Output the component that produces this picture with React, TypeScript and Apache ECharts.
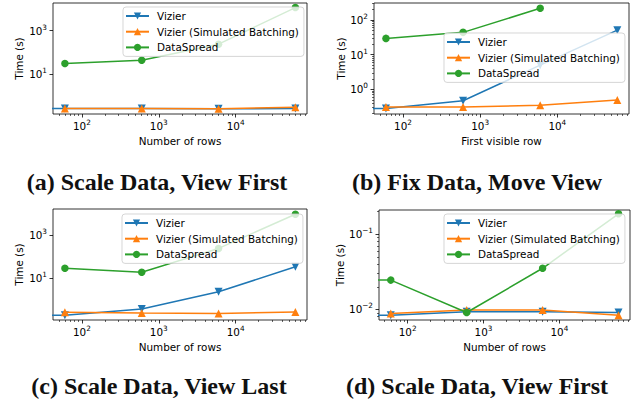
import React, { useEffect, useRef } from 'react';
import * as echarts from 'echarts';

// ---------- data ----------
const xRows = [60, 600, 6000, 60000];
const stubX = 1; // series whose line runs off the left edge (x = 0 in the source plot)

const seriesNames = ['Vizier', 'Vizier (Simulated Batching)', 'DataSpread'];

const aVizier = [0.26, 0.26, 0.25, 0.26];
const aBatch = [0.26, 0.26, 0.25, 0.3];
const aSpread = [31, 44, 240, 11700];

const bVizier = [0.28, 0.47, 5.0, 51];
const bBatch = [0.31, 0.31, 0.35, 0.49];
const bSpread = [29.5, 44, 217];

const cVizier = [0.2, 0.39, 2.4, 34];
const cBatch = [0.27, 0.25, 0.24, 0.28];
const cSpread = [29, 19, 240, 9100];

const dVizier = [0.0084, 0.0093, 0.0093, 0.0091];
const dBatch = [0.0088, 0.0098, 0.0098, 0.0084];
const dSpread = [0.0245, 0.0091, 0.0352, 0.186];

const xMajor = [100, 1000, 10000];
const xMinor = [50, 60, 70, 80, 90, 200, 300, 400, 500, 600, 700, 800, 900,
  2000, 3000, 4000, 5000, 6000, 7000, 8000, 9000, 20000, 30000, 40000, 50000, 60000, 70000, 80000];

const aYMajor = [10, 1000];
const bYMajor = [1, 10, 100];
const bYMinor = [0.2, 0.3, 0.4, 0.5, 0.6, 0.7, 0.8, 0.9, 2, 3, 4, 5, 6, 7, 8, 9,
  20, 30, 40, 50, 60, 70, 80, 90, 200, 300];
const cYMajor = [10, 1000];
const dYMajor = [0.01, 0.1];
const dYMinor = [0.008, 0.009, 0.02, 0.03, 0.04, 0.05, 0.06, 0.07, 0.08, 0.09, 0.2];

const captions = [
  '(a) Scale Data, View First',
  '(b) Fix Data, Move View',
  '(c) Scale Data, View Last',
  '(d) Scale Data, View First',
];
const xNames = ['Number of rows', 'First visible row', 'Number of rows', 'Number of rows'];

// ---------- layout / style ----------
const FONT = 'DejaVu Sans';
const FS = 10.4;
const colors = ['#1f77b4', '#ff7f0e', '#2ca02c'];
const symbols = ['triangle', 'triangle', 'circle'];
const rotates = [180, 0, 0];
const symSizes = [8, 8, 7.5];

const panels = [
  {
    grid: { left: 53, top: 3, width: 254, height: 111 },
    yMin: 0.145, yMax: 19000, yMajor: aYMajor, yMinor: [] as number[], yNameGap: 29,
    legend: { left: 123, top: 7 },
    data: [aVizier, aBatch, aSpread], stubs: [true, false, false],
    caption: { x: 157, y: 182 },
  },
  {
    grid: { left: 374, top: 3, width: 255, height: 111 },
    yMin: 0.195, yMax: 309, yMajor: bYMajor, yMinor: bYMinor, yNameGap: 28,
    legend: { left: 444, top: 33 },
    data: [bVizier, bBatch, bSpread], stubs: [true, false, false],
    caption: { x: 477, y: 182 },
  },
  {
    grid: { left: 53, top: 209, width: 254, height: 111 },
    yMin: 0.12, yMax: 15800, yMajor: cYMajor, yMinor: [] as number[], yNameGap: 29,
    legend: { left: 122, top: 214 },
    data: [cVizier, cBatch, cSpread], stubs: [true, false, false],
    caption: { x: 159, y: 386 },
  },
  {
    grid: { left: 379, top: 210, width: 251, height: 110 },
    yMin: 0.00724, yMax: 0.209, yMajor: dYMajor, yMinor: dYMinor, yNameGap: 33,
    legend: { left: 444, top: 214 },
    data: [dVizier, dBatch, dSpread], stubs: [true, false, true],
    caption: { x: 477, y: 386 },
  },
];

const powFormatter = (v: number) => {
  const e = Math.round(Math.log10(v));
  const s = e < 0 ? '\u2212' + Math.abs(e) : String(e);
  return `{b|10}{s|${s}}`;
};

const richLabel = {
  b: { fontSize: FS, fontFamily: FONT, color: '#000' },
  s: { fontSize: 7.3, fontFamily: FONT, color: '#000', padding: [0, 0, 7, 0] },
};

function buildOption() {
  const grids: any[] = [];
  const xAxes: any[] = [];
  const yAxes: any[] = [];
  const series: any[] = [];
  const legends: any[] = [];
  const graphics: any[] = [];

  panels.forEach((p, gi) => {
    grids.push({
      ...p.grid,
      show: true,
      borderColor: '#000',
      borderWidth: 0.8,
      backgroundColor: 'transparent',
      containLabel: false,
    });
    // main x axis
    xAxes.push({
      type: 'log', logBase: 10, gridIndex: gi, min: 42, max: 85000,
      name: xNames[gi], nameLocation: 'middle', nameGap: 22,
      nameTextStyle: { fontFamily: FONT, fontSize: FS, color: '#000' },
      axisLine: { show: false },
      axisTick: { show: true, customValues: xMajor, length: 3.5, lineStyle: { color: '#000', width: 0.8 } },
      axisLabel: { customValues: xMajor, formatter: powFormatter, margin: 5, rich: richLabel },
      splitLine: { show: false },
      minorTick: { show: false },
    });
    // main y axis
    yAxes.push({
      type: 'log', logBase: 10, gridIndex: gi, min: p.yMin, max: p.yMax,
      name: 'Time (s)', nameLocation: 'middle', nameGap: p.yNameGap, nameRotate: 90,
      nameTextStyle: { fontFamily: FONT, fontSize: FS, color: '#000' },
      axisLine: { show: false },
      axisTick: { show: true, customValues: p.yMajor, length: 3.5, lineStyle: { color: '#000', width: 0.8 } },
      axisLabel: { customValues: p.yMajor, formatter: powFormatter, margin: 6, rich: richLabel },
      splitLine: { show: false },
    });

    const sIdx0 = series.length;
    p.data.forEach((vals, si) => {
      const pts: any[] = vals.map((v, i) => [xRows[i], v]);
      if (p.stubs[si]) pts.unshift({ value: [stubX, vals[0]], symbol: 'none' });
      series.push({
        type: 'line',
        name: seriesNames[si],
        xAxisIndex: gi,
        yAxisIndex: gi,
        data: pts,
        symbol: symbols[si],
        symbolRotate: rotates[si],
        symbolSize: symSizes[si],
        showSymbol: true,
        clip: true,
        color: colors[si],
        lineStyle: { color: colors[si], width: 1.5 },
        itemStyle: { color: colors[si] },
        z: 2 + si,
      });
    });

    legends.push({
      show: true,
      data: seriesNames,
      orient: 'vertical',
      left: p.legend.left,
      top: p.legend.top,
      itemWidth: 23,
      itemHeight: 9,
      itemGap: 3.7,
      padding: [3, 5, 3, 2],
      backgroundColor: 'rgba(255,255,255,0.8)',
      borderColor: 'rgba(204,204,204,0.8)',
      borderWidth: 1,
      borderRadius: 3,
      selectedMode: false,
      textStyle: { fontFamily: FONT, fontSize: FS, color: '#000', padding: [0, 0, 0, 3], lineHeight: 12 },
      z: 10,
    });

    graphics.push({
      type: 'text',
      x: p.caption.x,
      y: p.caption.y,
      style: {
        text: captions[gi],
        fontFamily: 'Liberation Serif',
        fontWeight: 'bold',
        fontSize: 24,
        fill: '#111',
        align: 'center',
        verticalAlign: 'middle',
      },
    });
  });

  // minor tick axes
  panels.forEach((p, gi) => {
    xAxes.push({
      type: 'log', logBase: 10, gridIndex: gi, min: 42, max: 85000, position: 'bottom',
      axisLine: { show: false },
      axisTick: { show: true, customValues: xMinor, length: 2, lineStyle: { color: '#000', width: 0.6 } },
      axisLabel: { show: false },
      splitLine: { show: false },
    });
    yAxes.push({
      type: 'log', logBase: 10, gridIndex: gi, min: p.yMin, max: p.yMax, position: 'left',
      axisLine: { show: false },
      axisTick: { show: p.yMinor.length > 0, customValues: p.yMinor.length ? p.yMinor : [p.yMin], length: 2, lineStyle: { color: '#000', width: 0.6 } },
      axisLabel: { show: false },
      splitLine: { show: false },
    });
  });

  return {
    animation: false,
    backgroundColor: '#fff',
    grid: grids,
    xAxis: xAxes,
    yAxis: yAxes,
    series,
    legend: legends,
    graphic: graphics,
  };
}

export default function App() {
  const ref = useRef<HTMLDivElement>(null);
  useEffect(() => {
    if (!ref.current) return;
    const chart = echarts.init(ref.current, undefined, { renderer: 'svg' });
    chart.setOption(buildOption() as any);
    return () => chart.dispose();
  }, []);
  return (
    <div
      ref={ref}
      style={{ position: 'fixed', left: 0, top: 0, width: 643, height: 404, background: '#fff' }}
    />
  );
}
